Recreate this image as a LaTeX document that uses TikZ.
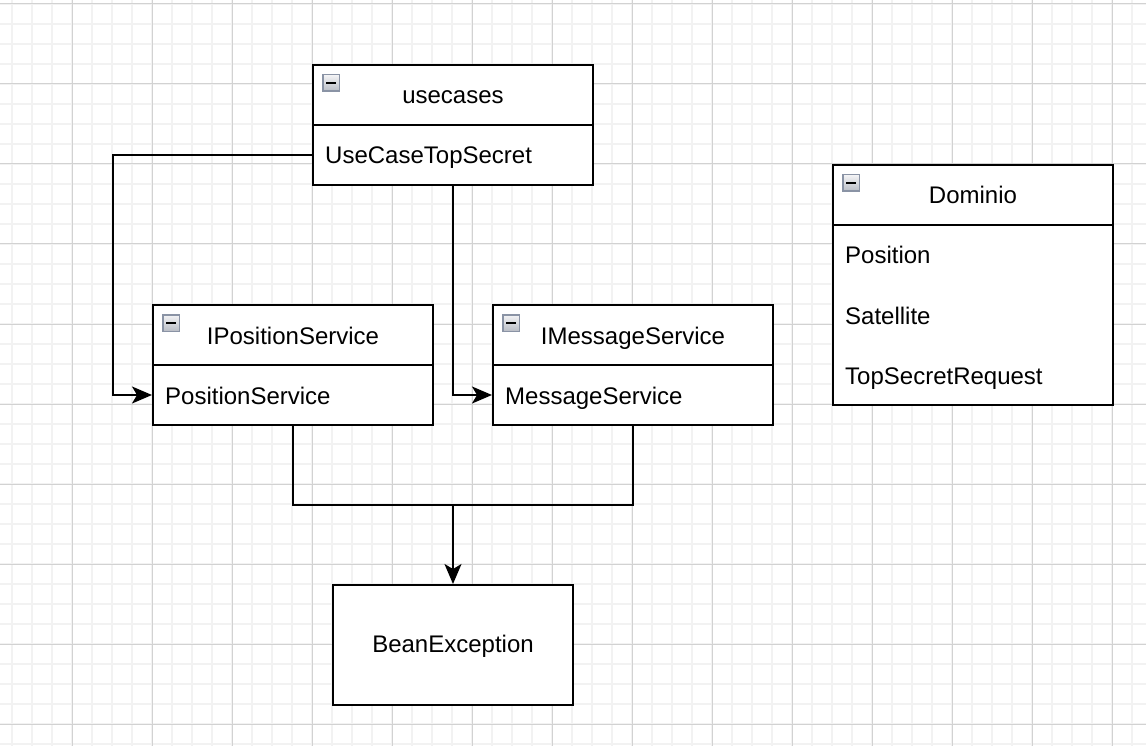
\documentclass[tikz,border=0pt]{standalone}
\usepackage{fontspec}
\setmainfont{Liberation Sans}
\usetikzlibrary{arrows.meta}
\definecolor{minorgrid}{HTML}{F2F2F2}
\definecolor{majorgrid}{HTML}{D2D2D2}
\definecolor{iconedge}{HTML}{8A93A5}
\definecolor{icontop}{HTML}{F4F4F6}
\definecolor{iconbot}{HTML}{B8BCC4}
\tikzset{
  box/.style={draw=black, line width=2pt, fill=white, inner sep=0pt},
  txt/.style={font=\fontsize{24}{28}\selectfont, inner sep=0pt, text=black},
  ctxt/.style={txt, anchor=base},
  ltxt/.style={txt, anchor=base west},
  conn/.style={draw=black, line width=2pt},
  arr/.style={conn, -{Stealth[length=20pt,width=17pt,inset=5pt]}},
  icon/.style={draw=iconedge, line width=1.5pt, top color=icontop, bottom color=iconbot, minimum size=16.5pt, inner sep=0pt},
}
\newcommand{\collapseicon}[2]{%
  \node[icon] (#1) at (#2) {};
  \draw[black, line width=2.2pt] ([xshift=-5pt]#1.center) -- ([xshift=5pt]#1.center);
}
\begin{document}
\begin{tikzpicture}[x=1pt,y=-1pt]
\useasboundingbox (0,0) rectangle (1146,746);
\fill[white] (0,0) rectangle (1146,746);
% grid
\foreach \x in {12,32,...,1146} \draw[minorgrid, line width=2pt] (\x,0) -- (\x,746);
\foreach \y in {4,24,...,746} \draw[minorgrid, line width=2pt] (0,\y) -- (1146,\y);
\foreach \x in {72,152,...,1146} \draw[majorgrid, line width=1pt] (\x,0) -- (\x,746);
\foreach \y in {4,84,...,746} \draw[majorgrid, line width=1pt] (0,\y) -- (1146,\y);

% usecases
\node[box, minimum width=280pt, minimum height=120pt] (uc) at (453,125) {};
\draw[line width=2pt] (uc.west |- 0,125) -- (uc.east |- 0,125);
\collapseicon{ucicon}{331,83}
\node[ctxt] (uct) at (453,104) {usecases};
\node[ltxt] (ucr) at (325,164) {UseCaseTopSecret};

% IPositionService
\node[box, minimum width=280pt, minimum height=120pt] (ip) at (293,365) {};
\draw[line width=2pt] (ip.west |- 0,365) -- (ip.east |- 0,365);
\collapseicon{ipicon}{171,323}
\node[ctxt] (ipt) at (293,344) {IPositionService};
\node[ltxt] (ipr) at (165,404) {PositionService};

% IMessageService
\node[box, minimum width=280pt, minimum height=120pt] (im) at (633,365) {};
\draw[line width=2pt] (im.west |- 0,365) -- (im.east |- 0,365);
\collapseicon{imicon}{511,323}
\node[ctxt] (imt) at (633,344) {IMessageService};
\node[ltxt] (imr) at (505,404) {MessageService};

% Dominio
\node[box, minimum width=280pt, minimum height=240pt] (dm) at (973,285) {};
\draw[line width=2pt] (dm.west |- 0,225) -- (dm.east |- 0,225);
\collapseicon{dmicon}{851,183}
\node[ctxt] (dmt) at (973,204) {Dominio};
\node[ltxt] (dm1) at (845,264) {Position};
\node[ltxt] (dm2) at (845,324) {Satellite};
\node[ltxt] (dm3) at (845,384) {TopSecretRequest};

% BeanException
\node[box, minimum width=240pt, minimum height=120pt] (be) at (453,645) {};
\node[ctxt] (bet) at (453,652) {BeanException};

% connectors
\coordinate (j1) at (113,155);
\coordinate (merge) at (453,505);
\draw[arr] (uc.west |- 0,155) -- (j1) |- (ip.west |- 0,395);
\draw[arr] (uc.south) |- (im.west |- 0,395);
\draw[conn] (ip.south) |- (merge);
\draw[conn] (im.south) |- (merge);
\draw[arr] (merge) -- (be.north);
\end{tikzpicture}
\end{document}
